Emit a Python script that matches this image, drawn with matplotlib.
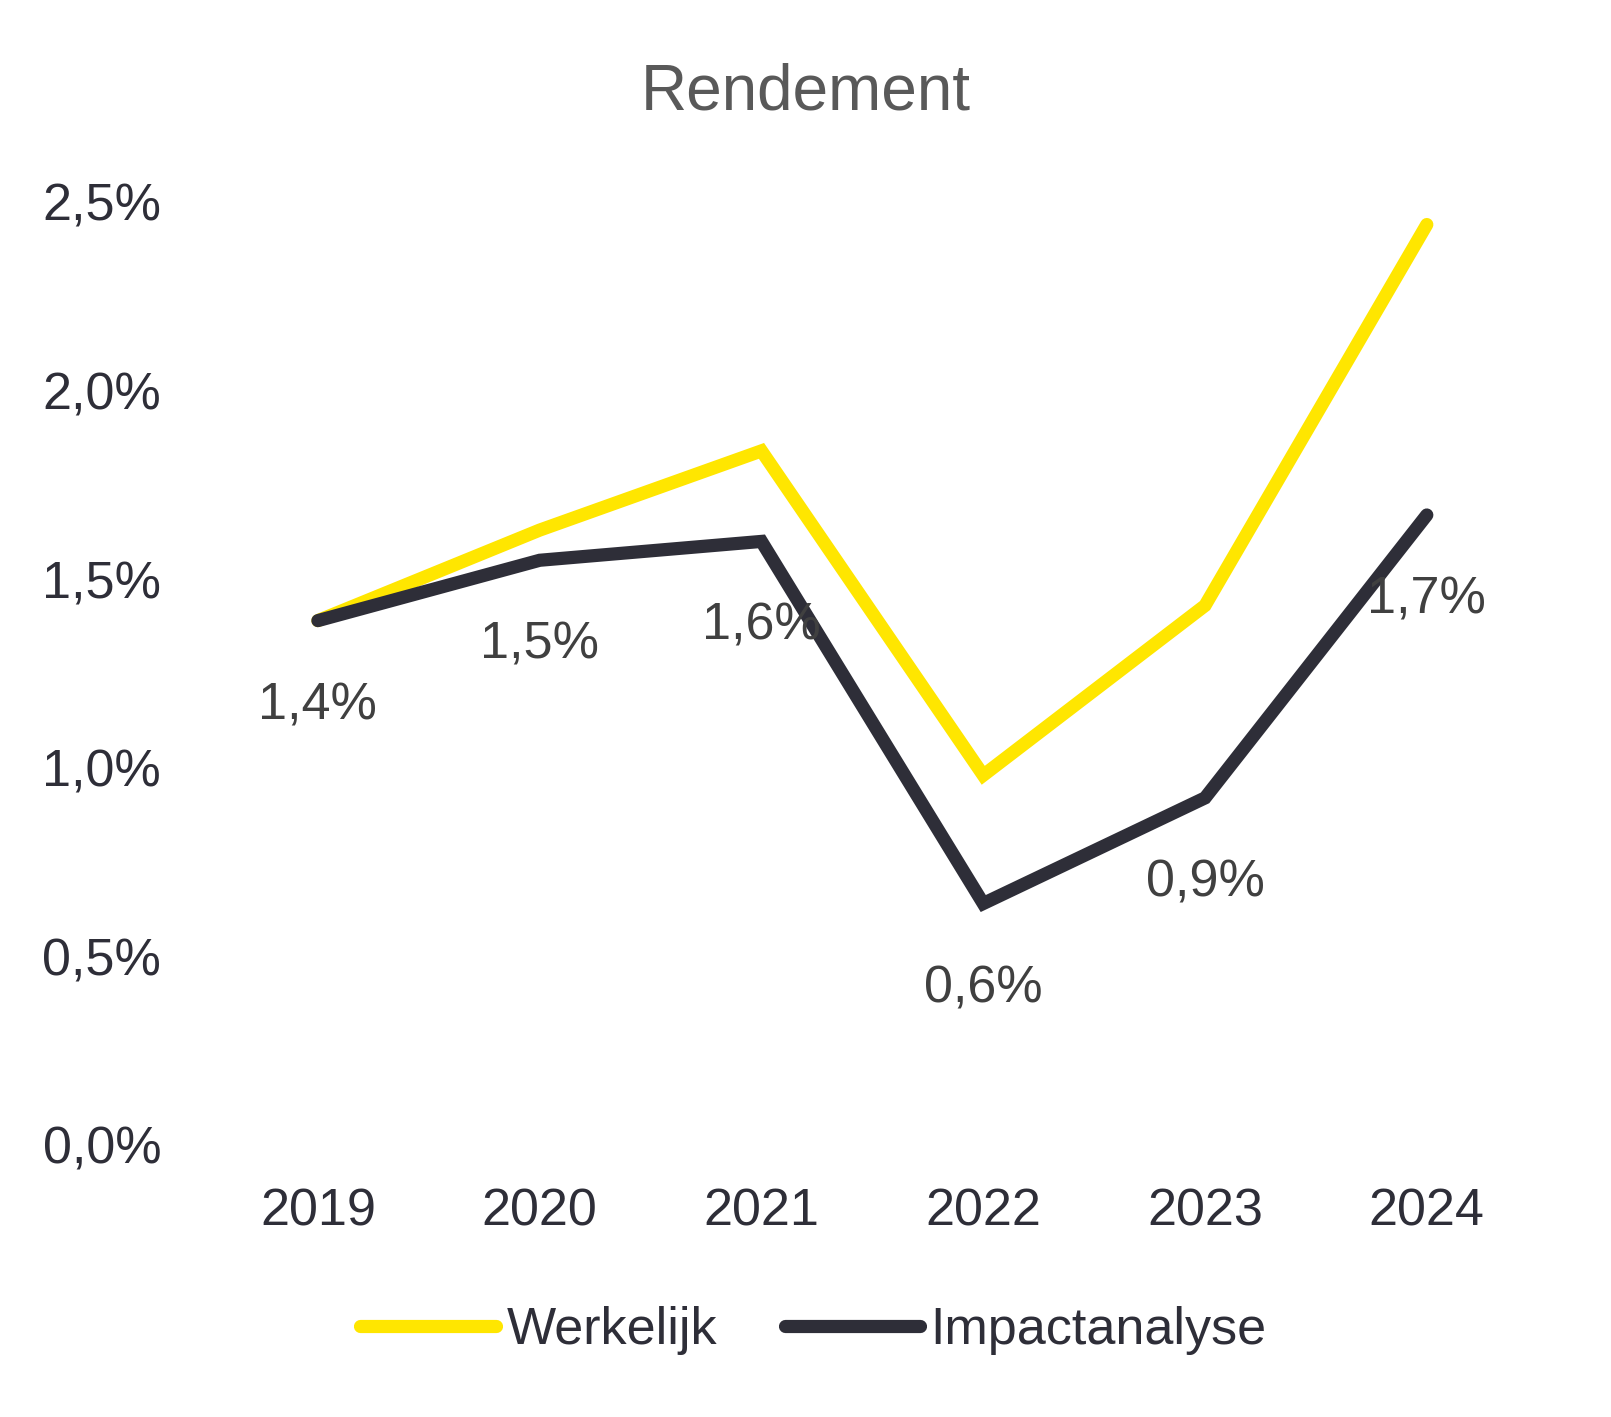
import matplotlib
matplotlib.use("Agg")
import matplotlib.pyplot as plt
from matplotlib.ticker import FuncFormatter

plt.rcParams['font.family'] = ['Liberation Sans', 'DejaVu Sans']

#---Data:
years = ['2019', '2020', '2021', '2022', '2023', '2024']
werkelijk = [1.39, 1.63, 1.84, 0.98, 1.43, 2.44]
impactanalyse = [1.39, 1.55, 1.60, 0.64, 0.92, 1.67]
impact_labels = ['1,4%', '1,5%', '1,6%', '0,6%', '0,9%', '1,7%']
y_ticks = [0.0, 0.5, 1.0, 1.5, 2.0, 2.5]

YELLOW = '#FFE600'
DARK = '#2E2E38'
FS = 37.5

fig = plt.figure(figsize=(16.11, 14.17), dpi=100)
ax = fig.add_axes([0.1285, 0.192, 0.826, 0.6655])

x = list(range(len(years)))
ax.plot(x, werkelijk, color=YELLOW, lw=9.5, solid_capstyle='round',
        solid_joinstyle='miter', label='Werkelijk')
ax.plot(x, impactanalyse, color=DARK, lw=9.5, solid_capstyle='round',
        solid_joinstyle='miter', label='Impactanalyse')

#---Data labels below the dark line:
for xi, yi, lab in zip(x, impactanalyse, impact_labels):
    ax.annotate(lab, (xi, yi), xytext=(0, -85), textcoords='offset pixels',
                ha='center', va='center', fontsize=FS, color='#404040')

ax.set_xlim(-0.5, len(years) - 0.5)
ax.set_ylim(0, 2.5)
ax.set_xticks(x)
ax.set_xticklabels(years)
ax.set_yticks(y_ticks)
ax.yaxis.set_major_formatter(FuncFormatter(lambda v, p: ('%.1f%%' % v).replace('.', ',')))
ax.tick_params(axis='y', length=0, pad=33, labelsize=FS, labelcolor=DARK)
ax.tick_params(axis='x', length=0, pad=31, labelsize=FS, labelcolor=DARK)
for s in ax.spines.values():
    s.set_visible(False)

fig.text(0.5, 1 - 92 / 1417, 'Rendement', ha='center', va='center',
         fontsize=46, color='#595959')

fig.legend(loc='center', bbox_to_anchor=(0.505, 0.061), ncol=2, frameon=False,
           fontsize=FS, handlelength=2.6, handletextpad=0.2, columnspacing=1.3,
           labelcolor=DARK)

fig.savefig('out.png', dpi=100, facecolor='white')
